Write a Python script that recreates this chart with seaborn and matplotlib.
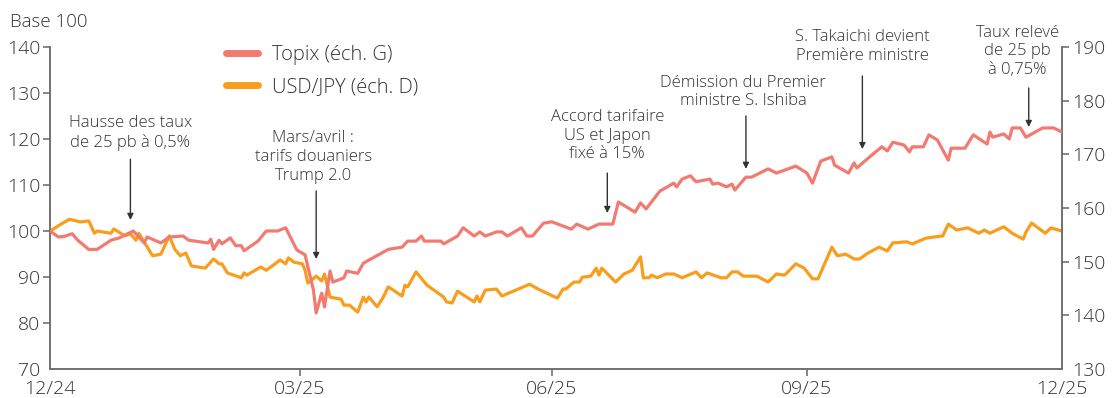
import numpy as np
import pandas as pd
import matplotlib
matplotlib.use("Agg")
import matplotlib.pyplot as plt
from matplotlib.lines import Line2D
import seaborn as sns

# ---------------- data (days since 31/12/2024) ----------------
topix_day = [0, 3, 5, 8, 10, 14, 17, 22, 25, 30, 31, 34, 35, 40, 43, 48, 50, 57, 58, 59,
             61, 62, 65, 67, 69, 70, 75, 78, 82, 85, 89, 92, 95, 96, 98, 99, 101, 102, 106, 107,
             111, 113, 119, 122, 127, 129, 132, 134, 135, 141, 142, 147, 149, 153, 155, 157, 161, 163, 165, 170,
             172, 174, 178, 181, 188, 190, 194, 198, 203, 205, 211, 213, 215, 220, 225, 226, 228, 231, 233, 238,
             239, 241, 244, 246, 247, 251, 253, 259, 262, 269, 273, 275, 278, 282, 283, 288, 290, 291, 296, 300,
             302, 304, 308, 310, 311, 315, 317, 320, 324, 325, 330, 333, 338, 339, 340, 344, 346, 347, 350, 352,
             358, 362, 365]
topix_val = [100, 98.7, 98.8, 99.4, 98, 96, 96, 98, 98.5, 100, 99.4, 97.4, 98.7, 97.4, 98.7, 98.9, 98, 97.4, 98.2, 96,
             98, 97.2, 98.5, 96.8, 96.8, 95.7, 97.8, 100, 100, 100.7, 95.9, 94.8, 87.2, 82.2, 86.5, 83.5, 91.3, 88.9, 89.8, 91.3,
             90.8, 93, 95, 96, 96.5, 97.8, 97.8, 98.9, 97.8, 97.8, 97.2, 98.9, 100.7, 98.9, 99.8, 98.9, 99.8, 99.8, 98.9, 100.7,
             98.9, 98.9, 101.7, 102, 100.4, 101.5, 100.4, 101.5, 101.5, 106.3, 104.1, 106.1, 104.8, 108.7, 110.4, 109.6, 111.3, 112, 110.7, 111.3,
             110.2, 110.4, 109.6, 110.2, 108.9, 111.7, 111.7, 113.5, 112.6, 114.1, 112.6, 110.4, 115.2, 116.1, 114.3, 112.6, 114.8, 113.7, 116.3, 118.3,
             117.4, 119.3, 118.7, 117.2, 118.3, 118.3, 120.9, 119.8, 115.4, 118, 118, 120.9, 118.9, 121.5, 120.4, 121.1, 120, 122.4, 122.4, 120.4,
             122.4, 122.4, 121.5]

usdjpy_day = [0, 4, 7, 11, 14, 16, 17, 22, 23, 27, 29, 31, 32, 37, 40, 43, 45, 47, 49, 51,
              56, 59, 61, 62, 64, 69, 70, 71, 76, 78, 83, 85, 86, 88, 91, 92, 93, 96, 98, 99,
              101, 105, 106, 108, 111, 113, 114, 115, 118, 120, 122, 127, 128, 129, 132, 136, 142, 143, 145, 147,
              153, 154, 155, 157, 161, 163, 173, 176, 183, 185, 186, 189, 191, 192, 195, 197, 198, 199, 204, 207,
              210, 213, 214, 216, 217, 219, 222, 225, 228, 233, 235, 237, 242, 244, 246, 248, 250, 255, 259, 262,
              265, 269, 272, 275, 277, 282, 284, 287, 290, 292, 295, 299, 302, 304, 309, 311, 316, 322, 324, 327,
              331, 335, 337, 339, 344, 347, 351, 352, 354, 359, 361, 365]
usdjpy_val = [155.7, 157, 157.9, 157.4, 157.6, 155.3, 155.7, 155.3, 156.1, 154.8, 155.2, 154, 155.3, 151.1, 151.4, 154.8, 152.3, 151.1, 151.6, 149.2,
              148.8, 150.5, 149.6, 149.6, 147.9, 147, 147.9, 147.5, 149, 148.4, 150.3, 149.6, 150.7, 149.9, 149.6, 148.4, 146, 147.3, 146.4, 147.7,
              143.4, 143, 141.9, 141.9, 140.6, 143.4, 142.5, 143.4, 141.6, 143.2, 145.3, 143.6, 145.6, 145.3, 148.1, 145.6, 143.4, 142.5, 142.3, 144.5,
              142.5, 143.6, 142.5, 144.7, 144.9, 143.6, 145.8, 144.9, 143.2, 144.9, 144.9, 146.2, 146.2, 147.1, 147.3, 148.8, 147.5, 148.8, 146.2, 147.7,
              148.4, 150.9, 147, 147, 147.5, 147, 147.7, 147.7, 147, 148.1, 147, 147.9, 147, 147, 148.1, 148.1, 147.3, 147.3, 146.2, 147.7,
              147.5, 149.6, 148.8, 146.8, 146.8, 152.7, 151.1, 151.4, 150.5, 150.5, 151.6, 152.7, 152, 153.5, 153.7, 153.3, 154.4, 154.8, 157, 155.9,
              156.3, 155.3, 155.9, 155.3, 156.5, 155.3, 154.2, 155.5, 157.2, 155.3, 156.3, 155.7]

tick_dates = ["2024-12-31", "2025-03-31", "2025-06-30", "2025-09-30", "2025-12-31"]
tick_labels = ["12/24", "03/25", "06/25", "09/25", "12/25"]
left_ticks = [70, 80, 90, 100, 110, 120, 130, 140]
right_ticks = [130, 140, 150, 160, 170, 180, 190]

series_labels = ["Topix (éch. G)", "USD/JPY (éch. D)"]

event_labels = ["Hausse des taux\nde 25 pb à 0,5%",
                "Mars/avril :\ntarifs douaniers\nTrump 2.0",
                "Accord tarifaire\nUS et Japon\nfixé à 15%",
                "Démission du Premier\nministre S. Ishiba",
                "S. Takaichi devient\nPremière ministre",
                "Taux relevé\nde 25 pb\nà 0,75%"]
event_text_day = [29, 95, 201, 250, 293, 349]
event_arrow_day = [29, 96, 201, 251, 293, 353]

# ---------------- style ----------------
TOPIX_C = "#F27B71"
USD_C = "#F99D1C"
TXT = "#333333"
AX_C = "#666666"

sns.set_theme(style="white")
plt.rcParams["font.family"] = ["Open Sans", "DejaVu Sans"]
plt.rcParams["font.weight"] = "light"
plt.rcParams["text.color"] = TXT

base = pd.Timestamp("2024-12-31")
df_t = pd.DataFrame({"date": base + pd.to_timedelta(topix_day, unit="D"), "v": topix_val})
df_u = pd.DataFrame({"date": base + pd.to_timedelta(usdjpy_day, unit="D"), "v": usdjpy_val})

fig = plt.figure(figsize=(11.2, 3.98), dpi=100)
ax = fig.add_axes([50 / 1120, 1 - 369 / 398, (1062 - 50) / 1120, (369 - 47) / 398])
ax2 = ax.twinx()

sns.lineplot(data=df_t, x="date", y="v", ax=ax, color=TOPIX_C, lw=2.3, estimator=None, zorder=3)
sns.lineplot(data=df_u, x="date", y="v", ax=ax2, color=USD_C, lw=2.3, estimator=None, zorder=2)

xmin, xmax = pd.Timestamp(tick_dates[0]), pd.Timestamp(tick_dates[-1])
ax.set_xlim(xmin, xmax)
ax.set_ylim(70, 140)
ax2.set_ylim(130, 190)
ax.set_xticks(pd.to_datetime(tick_dates))
ax.set_xticklabels(tick_labels)
ax.set_yticks(left_ticks)
ax2.set_yticks(right_ticks)
for a in (ax, ax2):
    a.set_xlabel("")
    a.set_ylabel("")
    a.grid(False)
    a.set_facecolor("none")
    for s in a.spines.values():
        s.set_color(AX_C)
        s.set_linewidth(1.3)
    a.spines["top"].set_visible(False)
ax.spines["right"].set_visible(False)
ax2.spines["left"].set_visible(False)
ax2.spines["bottom"].set_visible(False)

ax.tick_params(axis="both", which="major", direction="out", length=5, width=1.1, color=AX_C,
               labelsize=14, labelcolor=TXT, pad=2, left=True, bottom=True)
ax2.tick_params(axis="y", direction="out", length=5, width=1.1, color=AX_C,
                labelsize=14, labelcolor=TXT, pad=2, right=True)
ax.tick_params(axis="x", pad=3)
ax2.set_zorder(ax.get_zorder() - 1)
ax.patch.set_visible(False)

# no tick marks at the corners (as in the reference)
xt = ax.xaxis.get_major_ticks()
xt[0].tick1line.set_visible(False)
xt[-1].tick1line.set_visible(False)
ax.yaxis.get_major_ticks()[0].tick1line.set_visible(False)
ax2.yaxis.get_major_ticks()[0].tick2line.set_visible(False)

# legend
handles = [Line2D([0], [0], color=TOPIX_C, lw=5, solid_capstyle="round"),
           Line2D([0], [0], color=USD_C, lw=5, solid_capstyle="round")]
fig.legend(handles, series_labels, loc="upper left", bbox_to_anchor=(226 / 1120, 1 - 45 / 398),
           frameon=False, prop={"size": 14.5, "weight": "light"}, handlelength=1.6,
           handletextpad=0.7, labelspacing=0.6, borderpad=0, borderaxespad=0, labelcolor=TXT)

# "Base 100"
fig.text(10 / 1120, 1 - 22 / 398, "Base 100", fontsize=13.5, color=TXT, va="center", ha="left")

# annotations (positions in left-axis data units)
event_text_y = [121.3, 116.1, 120.7, 130.2, 140.1, 139.1]
event_arrow_top = [115.6, 108.7, 112.6, 125.0, 133.7, 131.1]
event_arrow_tip = [102.4, 93.9, 103.9, 113.5, 117.8, 122.6]
for lab, td, ad, ty, at, tip in zip(event_labels, event_text_day, event_arrow_day,
                                    event_text_y, event_arrow_top, event_arrow_tip):
    tx = base + pd.Timedelta(days=td)
    axx = base + pd.Timedelta(days=ad)
    ax.text(tx, ty, lab, ha="center", va="center", fontsize=12, color=TXT,
            linespacing=1.22, clip_on=False, zorder=6)
    ax.annotate("", xy=(axx, tip), xytext=(axx, at), annotation_clip=False,
                arrowprops=dict(arrowstyle="-|>", color=TXT, lw=1.0, mutation_scale=9,
                                shrinkA=0, shrinkB=0), zorder=6)

fig.savefig("out.png", dpi=100)
